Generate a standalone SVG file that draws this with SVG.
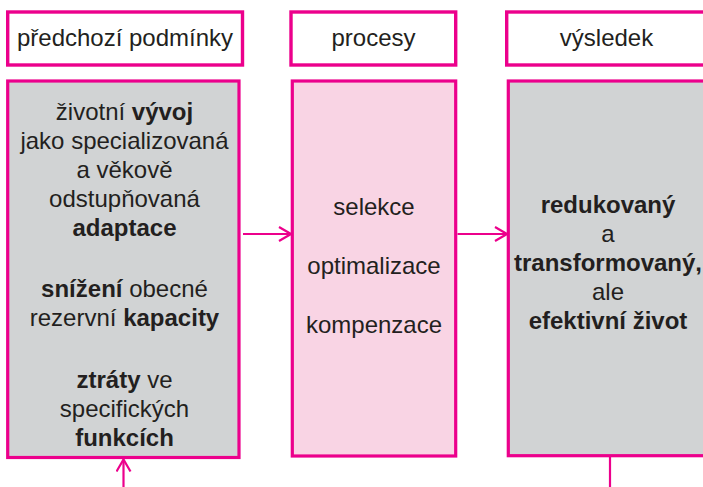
<svg xmlns="http://www.w3.org/2000/svg" width="703" height="487" viewBox="0 0 703 487">
<style>
.hdr{fill:#ffffff;stroke:#ec008c;stroke-width:3.4}
.box{stroke:#ec008c;stroke-width:3.2}
.gray{fill:#d1d3d4}
.pink{fill:#f9d4e4}
text{font-family:"Liberation Sans",Arial,Helvetica,sans-serif;font-size:24px;fill:#231f20;text-anchor:middle}
.b{font-weight:bold}
.conn{stroke:#ec008c;stroke-width:2.2;fill:none}
</style>
<defs>
<marker id="arr" viewBox="0 0 14 16" refX="13" refY="8" markerWidth="14" markerHeight="16" markerUnits="userSpaceOnUse" orient="auto">
<path d="M1,1 L13,8 L1,15" fill="none" stroke="#ec008c" stroke-width="2.2"/>
</marker>
</defs>
<g id="hdr-predchozi">
<rect class="hdr" x="7.7" y="12" width="234.8" height="53"/>
<text x="125" y="46">předchozí podmínky</text>
</g>
<g id="hdr-procesy">
<rect class="hdr" x="291" y="12" width="164.7" height="53"/>
<text x="373.5" y="46">procesy</text>
</g>
<g id="hdr-vysledek">
<rect class="hdr" x="506.7" y="12" width="210" height="53"/>
<text x="606.5" y="46">výsledek</text>
</g>
<g id="predchozi">
<rect class="box gray" x="7.7" y="81" width="231.3" height="376.5"/>
<text x="124.5" y="120">životní <tspan class="b">vývoj</tspan></text>
<text x="124.5" y="149">jako specializovaná</text>
<text x="124.5" y="178">a věkově</text>
<text x="124.5" y="207">odstupňovaná</text>
<text x="124.5" y="236" class="b">adaptace</text>
<text x="124.5" y="297"><tspan class="b">snížení</tspan> obecné</text>
<text x="124.5" y="326">rezervní <tspan class="b">kapacity</tspan></text>
<text x="124.5" y="388"><tspan class="b">ztráty</tspan> ve</text>
<text x="124.5" y="417">specifických</text>
<text x="124.5" y="446" class="b">funkcích</text>
</g>
<g id="procesy">
<rect class="box pink" x="292.3" y="81" width="163.4" height="375"/>
<text x="374" y="215">selekce</text>
<text x="374" y="274">optimalizace</text>
<text x="374" y="333">kompenzace</text>
</g>
<g id="vysledek">
<rect class="box gray" x="508.3" y="81" width="210" height="374.7"/>
<text x="608" y="213" class="b">redukovaný</text>
<text x="608" y="242">a</text>
<text x="608" y="271" class="b">transformovaný,</text>
<text x="608" y="300">ale</text>
<text x="608" y="329" class="b">efektivní život</text>
</g>
<g id="connectors">
<line class="conn" x1="243" y1="234" x2="291" y2="234" marker-end="url(#arr)"/>
<line class="conn" x1="457.5" y1="234" x2="507" y2="234" marker-end="url(#arr)"/>
<line class="conn" x1="123.5" y1="487" x2="123.5" y2="459.5" marker-end="url(#arr)"/>
<line class="conn" x1="610" y1="457" x2="610" y2="487"/>
</g>
</svg>
